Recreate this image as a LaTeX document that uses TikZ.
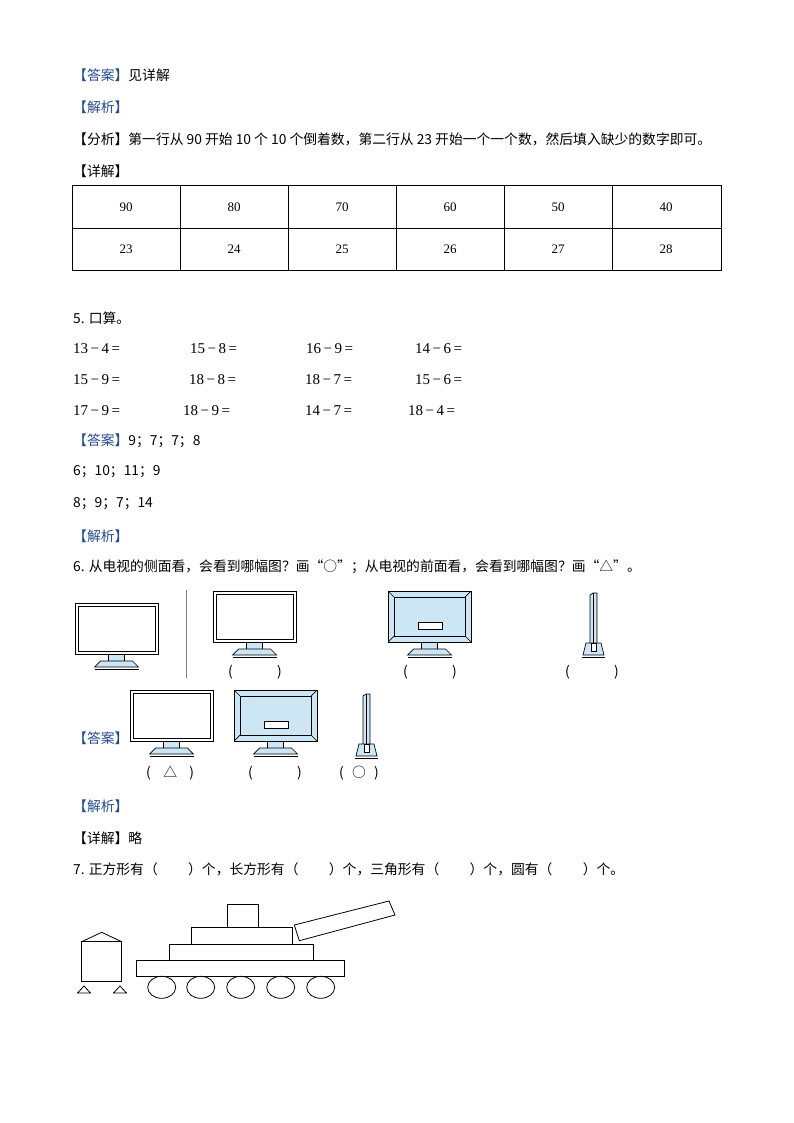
\documentclass[tikz,border=0pt]{standalone}
\usepackage{fontspec}
\setmainfont{Noto Sans CJK SC}
\newfontfamily\numf{Liberation Serif}
\usetikzlibrary{shapes.geometric}
\definecolor{lbl}{RGB}{35,75,145}
\definecolor{tvb}{RGB}{205,230,245}
\tikzset{txt/.style={anchor=west,inner sep=0pt,font=\fontsize{13.8}{15}\selectfont},
 num/.style={anchor=center,inner sep=0pt,font=\numf\fontsize{13}{15}\selectfont},
 ar/.style={anchor=west,inner sep=0pt,font=\numf\fontsize{15}{17}\selectfont},
 ln/.style={draw=black,line width=0.7pt}}
\newcommand{\tvstand}[2]{% cx, ybottom of screen
 \draw[ln,fill=tvb] (#1-8,#2) rectangle (#1+8,#2+7);
 \draw[ln,fill=tvb] (#1-16,#2+7) -- (#1+16,#2+7) -- (#1+22,#2+13) -- (#1-22,#2+13) -- cycle;
 \draw[ln] (#1-22,#2+15) -- (#1+22,#2+15);}
\newcommand{\tvfront}[2]{%
 \draw[ln,fill=white] (#1,#2) rectangle (#1+83,#2+51);
 \draw[ln] (#1+3,#2+3) rectangle (#1+80,#2+48);
 \tvstand{#1+41.5}{#2+51}}
\newcommand{\tvback}[2]{%
 \draw[ln,fill=tvb] (#1,#2) rectangle (#1+83,#2+51);
 \draw[ln] (#1+6,#2+6) rectangle (#1+77,#2+45);
 \draw[ln] (#1,#2)--(#1+6,#2+6) (#1+83,#2)--(#1+77,#2+6) (#1,#2+51)--(#1+6,#2+45) (#1+83,#2+51)--(#1+77,#2+45);
 \draw[ln,fill=white] (#1+30,#2+31) rectangle (#1+54,#2+38);
 \tvstand{#1+41.5}{#2+51}}
\newcommand{\tvside}[2]{% x left of panel, y top
 \draw[ln,fill=tvb] (#1,#2+2) -- (#1+3,#2) -- (#1+7,#2) -- (#1+7,#2+56) -- (#1,#2+56) -- cycle;
 \draw[ln] (#1+3,#2) -- (#1+3,#2+56);
 \draw[ln,fill=tvb] (#1-7,#2+62) -- (#1-4,#2+50) -- (#1+11,#2+50) -- (#1+14,#2+62) -- cycle;
 \draw[ln,fill=white] (#1+1,#2+50) rectangle (#1+6,#2+58);
 \draw[ln] (#1-8,#2+64) -- (#1+15,#2+64);}
\begin{document}
\begin{tikzpicture}[x=1pt,y=-1pt]
\useasboundingbox[fill=white] (0,0) rectangle (794,1123);
% section 4 answer
\node[txt] (a1) at (73,75) {\textcolor{lbl}{【答案】}见详解};
\node[txt] (a2) at (73,107) {\textcolor{lbl}{【解析】}};
\node[txt] (a3) at (73,139) {【分析】第一行从 90 开始 10 个 10 个倒着数，第二行从 23 开始一个一个数，然后填入缺少的数字即可。};
\node[txt] (a4) at (73,171) {【详解】};
\draw[line width=0.8pt] (72,185) rectangle (721,270) (72,228) -- (721,228);
\foreach \x in {180,288,396,504,612} \draw[line width=0.8pt] (\x,185) -- (\x,270);
\foreach \v [count=\i] in {90,80,70,60,50,40} \node[num] (t\i) at (18+108*\i,207) {\v};
\foreach \v [count=\i] in {23,24,25,26,27,28} \node[num] (u\i) at (18+108*\i,249) {\v};
% section 5
\node[txt] (q5) at (73,318) {5. 口算。};
\foreach \a/\b/\x/\y [count=\i] in {13/4/73/349,15/8/190/349,16/9/306/349,14/6/415/349,
 15/9/73/380,18/8/189/380,18/7/305/380,15/6/415/380,
 17/9/73/411,18/9/183/411,14/7/305/411,18/4/408/411}
 \node[ar] (e\i) at (\x,\y) {\a\,−\,\b\,=};
\node[txt] (b1) at (73,441) {\textcolor{lbl}{【答案】}9；7；7；8};
\node[txt] (b2) at (73,472) {6；10；11；9};
\node[txt] (b3) at (73,504) {8；9；7；14};
\node[txt] (b4) at (73,536) {\textcolor{lbl}{【解析】}};
% section 6
\node[txt] (q6) at (73,567) {6. 从电视的侧面看，会看到哪幅图？画“○”；从电视的前面看，会看到哪幅图？画“△”。};
\tvfront{75}{603}
\draw[gray,line width=0.7pt] (186,590) -- (186,678);
\tvfront{213}{591}
\tvback{388}{591}
\tvside{590}{593}
\node[txt] (p1) at (228,672) {(\hspace{3.2em})};
\node[txt] (p2) at (403,672) {(\hspace{3.2em})};
\node[txt] (p3) at (565,672) {(\hspace{3.2em})};
\node[txt] (b5) at (73,738) {\textcolor{lbl}{【答案】}};
\tvfront{130}{690}
\tvback{234}{690}
\tvside{363}{694}
\node[txt] (p4) at (146,773) {(\hspace{0.9em}△\hspace{0.9em})};
\node[txt] (p5) at (248,773) {(\hspace{3.2em})};
\node[txt] (p6) at (339,773) {(\hspace{0.6em}○\hspace{0.6em})};
\node[txt] (b6) at (73,806) {\textcolor{lbl}{【解析】}};
\node[txt] (b7) at (73,838) {【详解】略};
% section 7
\node[txt] (q7) at (73,869) {7. 正方形有（\hspace{2.2em}）个，长方形有（\hspace{2.2em}）个，三角形有（\hspace{2.2em}）个，圆有（\hspace{2.2em}）个。};
\begin{scope}[line width=0.8pt]
\draw (81.7,941.7) rectangle (121.7,981.7);
\draw (81.7,941.7) -- (101.7,932.3) -- (121.7,941.7);
\draw (77.5,993) -- (84,986) -- (90.5,993) -- cycle;
\draw (113.5,993) -- (120,986) -- (126.5,993) -- cycle;
\draw (136.7,960) rectangle (344.3,976);
\draw (169.3,944) rectangle (313.3,960);
\draw (191.3,927.3) rectangle (292.7,944);
\draw (227.3,904.7) rectangle (258.3,927.3);
\draw (294.3,925) -- (389,901) -- (395,915) -- (299.3,940.7) -- cycle;
\foreach \x in {161.7,200.7,240.7,280.7,320.7} \draw (\x,987.3) ellipse [x radius=14, y radius=11];
\end{scope}
\end{tikzpicture}
\end{document}
